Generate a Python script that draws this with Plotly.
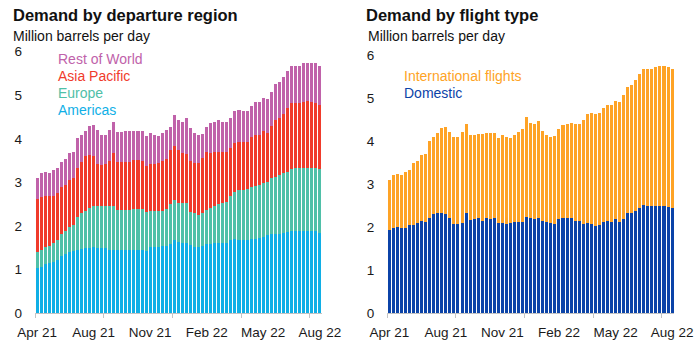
import plotly.graph_objects as go

# 71 weekly observations, late Apr 2021 - late Aug 2022 (million barrels per day)
weeks = list(range(71))
tick_label_pos = [0, 14, 28, 42, 56, 70]
tick_labels = ["Apr 21", "Aug 21", "Nov 21", "Feb 22", "May 22", "Aug 22"]
tick_mark_pos = [-0.5, 16.5, 33.5, 50.5, 67.5]

americas = [1.05, 1.06, 1.13, 1.15, 1.17, 1.22, 1.32, 1.35, 1.40, 1.43,
            1.46, 1.48, 1.49, 1.50, 1.51, 1.50, 1.49, 1.49, 1.46, 1.46,
            1.45, 1.45, 1.45, 1.45, 1.46, 1.45, 1.46, 1.44, 1.51, 1.51,
            1.53, 1.55, 1.55, 1.59, 1.67, 1.64, 1.62, 1.62, 1.56, 1.53,
            1.52, 1.54, 1.60, 1.60, 1.62, 1.62, 1.62, 1.62, 1.67, 1.70,
            1.69, 1.69, 1.69, 1.70, 1.70, 1.72, 1.76, 1.80, 1.82, 1.82,
            1.83, 1.85, 1.87, 1.89, 1.89, 1.89, 1.89, 1.89, 1.89, 1.88, 1.85]
europe = [0.36, 0.40, 0.38, 0.40, 0.44, 0.46, 0.50, 0.53, 0.58, 0.60,
          0.76, 0.81, 0.85, 0.91, 0.94, 0.97, 0.98, 0.97, 0.99, 1.00,
          0.91, 0.91, 0.92, 0.93, 0.93, 0.94, 0.94, 0.89, 0.83, 0.83,
          0.81, 0.79, 0.85, 0.91, 0.94, 0.90, 0.90, 0.90, 0.77, 0.76,
          0.73, 0.75, 0.77, 0.81, 0.83, 0.88, 0.90, 0.93, 1.01, 1.09,
          1.13, 1.14, 1.16, 1.20, 1.22, 1.22, 1.22, 1.22, 1.28, 1.30,
          1.34, 1.36, 1.38, 1.42, 1.44, 1.44, 1.45, 1.45, 1.44, 1.45, 1.46]
asia_pacific = [1.21, 1.20, 1.18, 1.14, 1.09, 1.07, 1.08, 1.06, 1.08, 1.07,
                1.12, 1.18, 1.27, 1.22, 1.15, 0.95, 0.93, 0.96, 1.05, 1.22,
                1.12, 1.12, 1.11, 1.10, 1.13, 1.13, 1.10, 1.06, 1.08, 1.08,
                1.10, 1.16, 1.14, 1.25, 1.23, 1.20, 1.16, 1.14, 1.17, 1.16,
                1.19, 1.27, 1.33, 1.27, 1.26, 1.20, 1.18, 1.15, 1.10, 1.12,
                1.12, 1.09, 1.09, 1.14, 1.17, 1.15, 1.19, 1.12, 1.20, 1.31,
                1.32, 1.36, 1.45, 1.51, 1.49, 1.49, 1.51, 1.53, 1.52, 1.50, 1.47]
rest_of_world = [0.48, 0.55, 0.54, 0.52, 0.59, 0.59, 0.58, 0.59, 0.61, 0.59,
                 0.67, 0.62, 0.57, 0.67, 0.73, 0.78, 0.69, 0.66, 0.70, 0.71,
                 0.67, 0.67, 0.69, 0.69, 0.67, 0.67, 0.69, 0.68, 0.72, 0.67,
                 0.63, 0.64, 0.66, 0.52, 0.71, 0.69, 0.71, 0.81, 0.74, 0.69,
                 0.65, 0.56, 0.57, 0.69, 0.68, 0.73, 0.69, 0.69, 0.71, 0.73,
                 0.72, 0.72, 0.71, 0.72, 0.75, 0.75, 0.76, 0.77, 0.78, 0.83,
                 0.81, 0.84, 0.86, 0.86, 0.86, 0.86, 0.88, 0.88, 0.90, 0.90, 0.90]
domestic = [1.94, 1.98, 2.01, 1.98, 1.99, 2.05, 2.06, 2.09, 2.15, 2.13,
            2.21, 2.31, 2.32, 2.34, 2.31, 2.21, 2.08, 2.08, 2.09, 2.32,
            2.17, 2.19, 2.21, 2.15, 2.21, 2.19, 2.21, 2.09, 2.09, 2.08,
            2.09, 2.12, 2.12, 2.12, 2.23, 2.21, 2.19, 2.21, 2.15, 2.12,
            2.09, 2.08, 2.18, 2.22, 2.21, 2.21, 2.15, 2.15, 2.08, 2.09,
            2.08, 2.03, 2.05, 2.12, 2.14, 2.12, 2.18, 2.12, 2.19, 2.32,
            2.32, 2.37, 2.44, 2.52, 2.50, 2.50, 2.50, 2.50, 2.50, 2.47, 2.45]
international = [1.16, 1.23, 1.22, 1.23, 1.30, 1.29, 1.42, 1.44, 1.52, 1.56,
                 1.80, 1.78, 1.86, 1.96, 2.01, 1.99, 2.01, 2.01, 2.11, 2.07,
                 1.98, 1.96, 1.96, 2.02, 1.98, 2.00, 1.98, 1.98, 2.05, 2.01,
                 1.98, 2.02, 2.08, 2.15, 2.32, 2.22, 2.20, 2.26, 2.09, 2.02,
                 2.00, 2.04, 2.09, 2.15, 2.18, 2.22, 2.24, 2.24, 2.41, 2.55,
                 2.58, 2.61, 2.60, 2.64, 2.70, 2.72, 2.75, 2.79, 2.89, 2.94,
                 2.98, 3.04, 3.12, 3.16, 3.18, 3.18, 3.23, 3.25, 3.25, 3.26, 3.23]

COL = {
    "Americas": "#10afe6",
    "Europe": "#4fc0a8",
    "Asia Pacific": "#f03b2b",
    "Rest of World": "#c062aa",
    "Domestic": "#0b43a8",
    "International flights": "#fea326",
}
FONT = "Liberation Sans, Arial, sans-serif"
W, H = 700, 342

fig = go.Figure()
for name, vals in [("Americas", americas), ("Europe", europe),
                   ("Asia Pacific", asia_pacific), ("Rest of World", rest_of_world)]:
    fig.add_trace(go.Bar(x=weeks, y=vals, name=name, marker_color=COL[name],
                         marker_line_width=0, xaxis="x", yaxis="y", showlegend=False))
for name, vals in [("Domestic", domestic), ("International flights", international)]:
    fig.add_trace(go.Bar(x=weeks, y=vals, name=name, marker_color=COL[name],
                         marker_line_width=0, xaxis="x2", yaxis="y2", showlegend=False))


def xax(domain):
    return dict(domain=domain, range=[-0.5, 70.5], tickmode="array",
                tickvals=tick_label_pos, ticktext=tick_labels, ticks="",
                showgrid=False, zeroline=False, showline=True, automargin=False,
                linecolor="#c4c4c4", linewidth=1,
                tickfont=dict(family=FONT, size=13.5, color="#1a1a1a"),
                ticklabelstandoff=6,
                minor=dict(tickmode="array", tickvals=tick_mark_pos, ticks="outside",
                           ticklen=4, tickwidth=1, tickcolor="#c4c4c4", showgrid=False))


def yax(domain, anchor):
    return dict(domain=domain, range=[0, 6], tickvals=[0, 1, 2, 3, 4, 5, 6],
                showgrid=False, zeroline=False, showline=False, ticks="",
                automargin=False,
                tickfont=dict(family=FONT, size=13.5, color="#1a1a1a"),
                ticklabelstandoff=12, anchor=anchor)


fig.update_layout(
    width=W, height=H, margin=dict(l=0, r=0, t=0, b=0, autoexpand=False),
    paper_bgcolor="white", plot_bgcolor="white",
    barmode="stack", bargap=0.25, showlegend=False,
    xaxis=dict(xax([35 / W, 321.8 / W]), anchor="y"),
    yaxis=yax([1 - 313.3 / H, 1 - 51.7 / H], "x"),
    xaxis2=dict(xax([387.3 / W, 674.1 / W]), anchor="y2"),
    yaxis2=yax([1 - 313.3 / H, 1 - 55 / H], "x2"),
)

ann = []


def text(x, y, s, size, color="#111111", bold=False):
    ann.append(dict(x=x / W, y=1 - y / H, xref="paper", yref="paper",
                    xanchor="left", yanchor="middle", showarrow=False,
                    text=f"<b>{s}</b>" if bold else s,
                    font=dict(family=FONT, size=size, color=color)))


text(11, 15, "Demand by departure region", 16.5, bold=True)
text(11, 36, "Million barrels per day", 14)
text(364, 15, "Demand by flight type", 16.5, bold=True)
text(366, 36, "Million barrels per day", 14)

for i, name in enumerate(["Rest of World", "Asia Pacific", "Europe", "Americas"]):
    text(56, 59 + 17 * i, name, 14, COL[name])
for i, name in enumerate(["International flights", "Domestic"]):
    text(402, 76 + 17 * i, name, 14, COL[name])

fig.update_layout(annotations=ann)
fig.write_html("out.html")
